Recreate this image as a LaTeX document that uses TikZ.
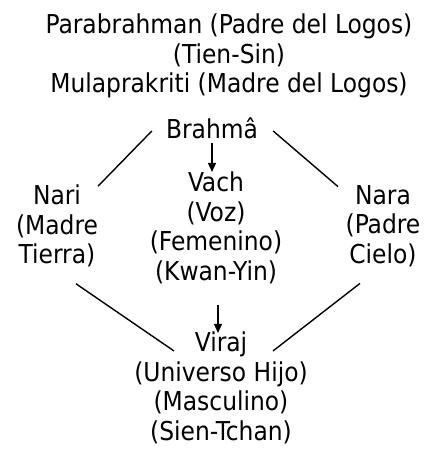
\documentclass[tikz,border=0pt]{standalone}
\usepackage{fontspec}
\setmainfont{DejaVu Sans Condensed}
\usetikzlibrary{arrows.meta}
\begin{document}
\begin{tikzpicture}[x=1pt,y=-1pt,
  txt/.style={align=center,inner sep=1pt,font=\fontsize{26}{29.5}\selectfont},
  ln/.style={line width=1.4pt},
  arr/.style={line width=1.4pt,-{Triangle[length=9pt,width=8pt]}}]
\useasboundingbox (0,0) rectangle (429,452);
\node[txt] (top) at (229,56) {Parabrahman (Padre del Logos)\\(Tien-Sin)\\Mulaprakriti (Madre del Logos)};
\node[txt] (brahma) at (212,128) {Brahmâ};
\node[txt] (vach) at (216,228) {Vach\\(Voz)\\(Femenino)\\(Kwan-Yin)};
\node[txt] (nari) at (57,226) {Nari\\(Madre\\Tierra)};
\node[txt] (nara) at (383,226) {Nara\\(Padre\\Cielo)};
\node[txt] (viraj) at (221,388) {Viraj\\(Universo Hijo)\\(Masculino)\\(Sien-Tchan)};
\draw[ln] ([shift={(-13,3)}]brahma.west) -- ([shift={(41,2.5)}]nari.north);
\draw[ln] ([shift={(14,3)}]brahma.east) -- ([shift={(-45,2.5)}]nara.north);
\draw[ln] ([shift={(19,15.5)}]nari.south) -- ([shift={(-47,20)}]viraj.north);
\draw[ln] ([shift={(-23,15.5)}]nara.south) -- ([shift={(52,20)}]viraj.north);
\draw[arr] ([shift={(0,3)}]brahma.south) -- ([shift={(-4,1)}]vach.north);
\draw[arr] ([shift={(2,20)}]vach.south) -- ([shift={(-3,2)}]viraj.north);
\end{tikzpicture}
\end{document}
